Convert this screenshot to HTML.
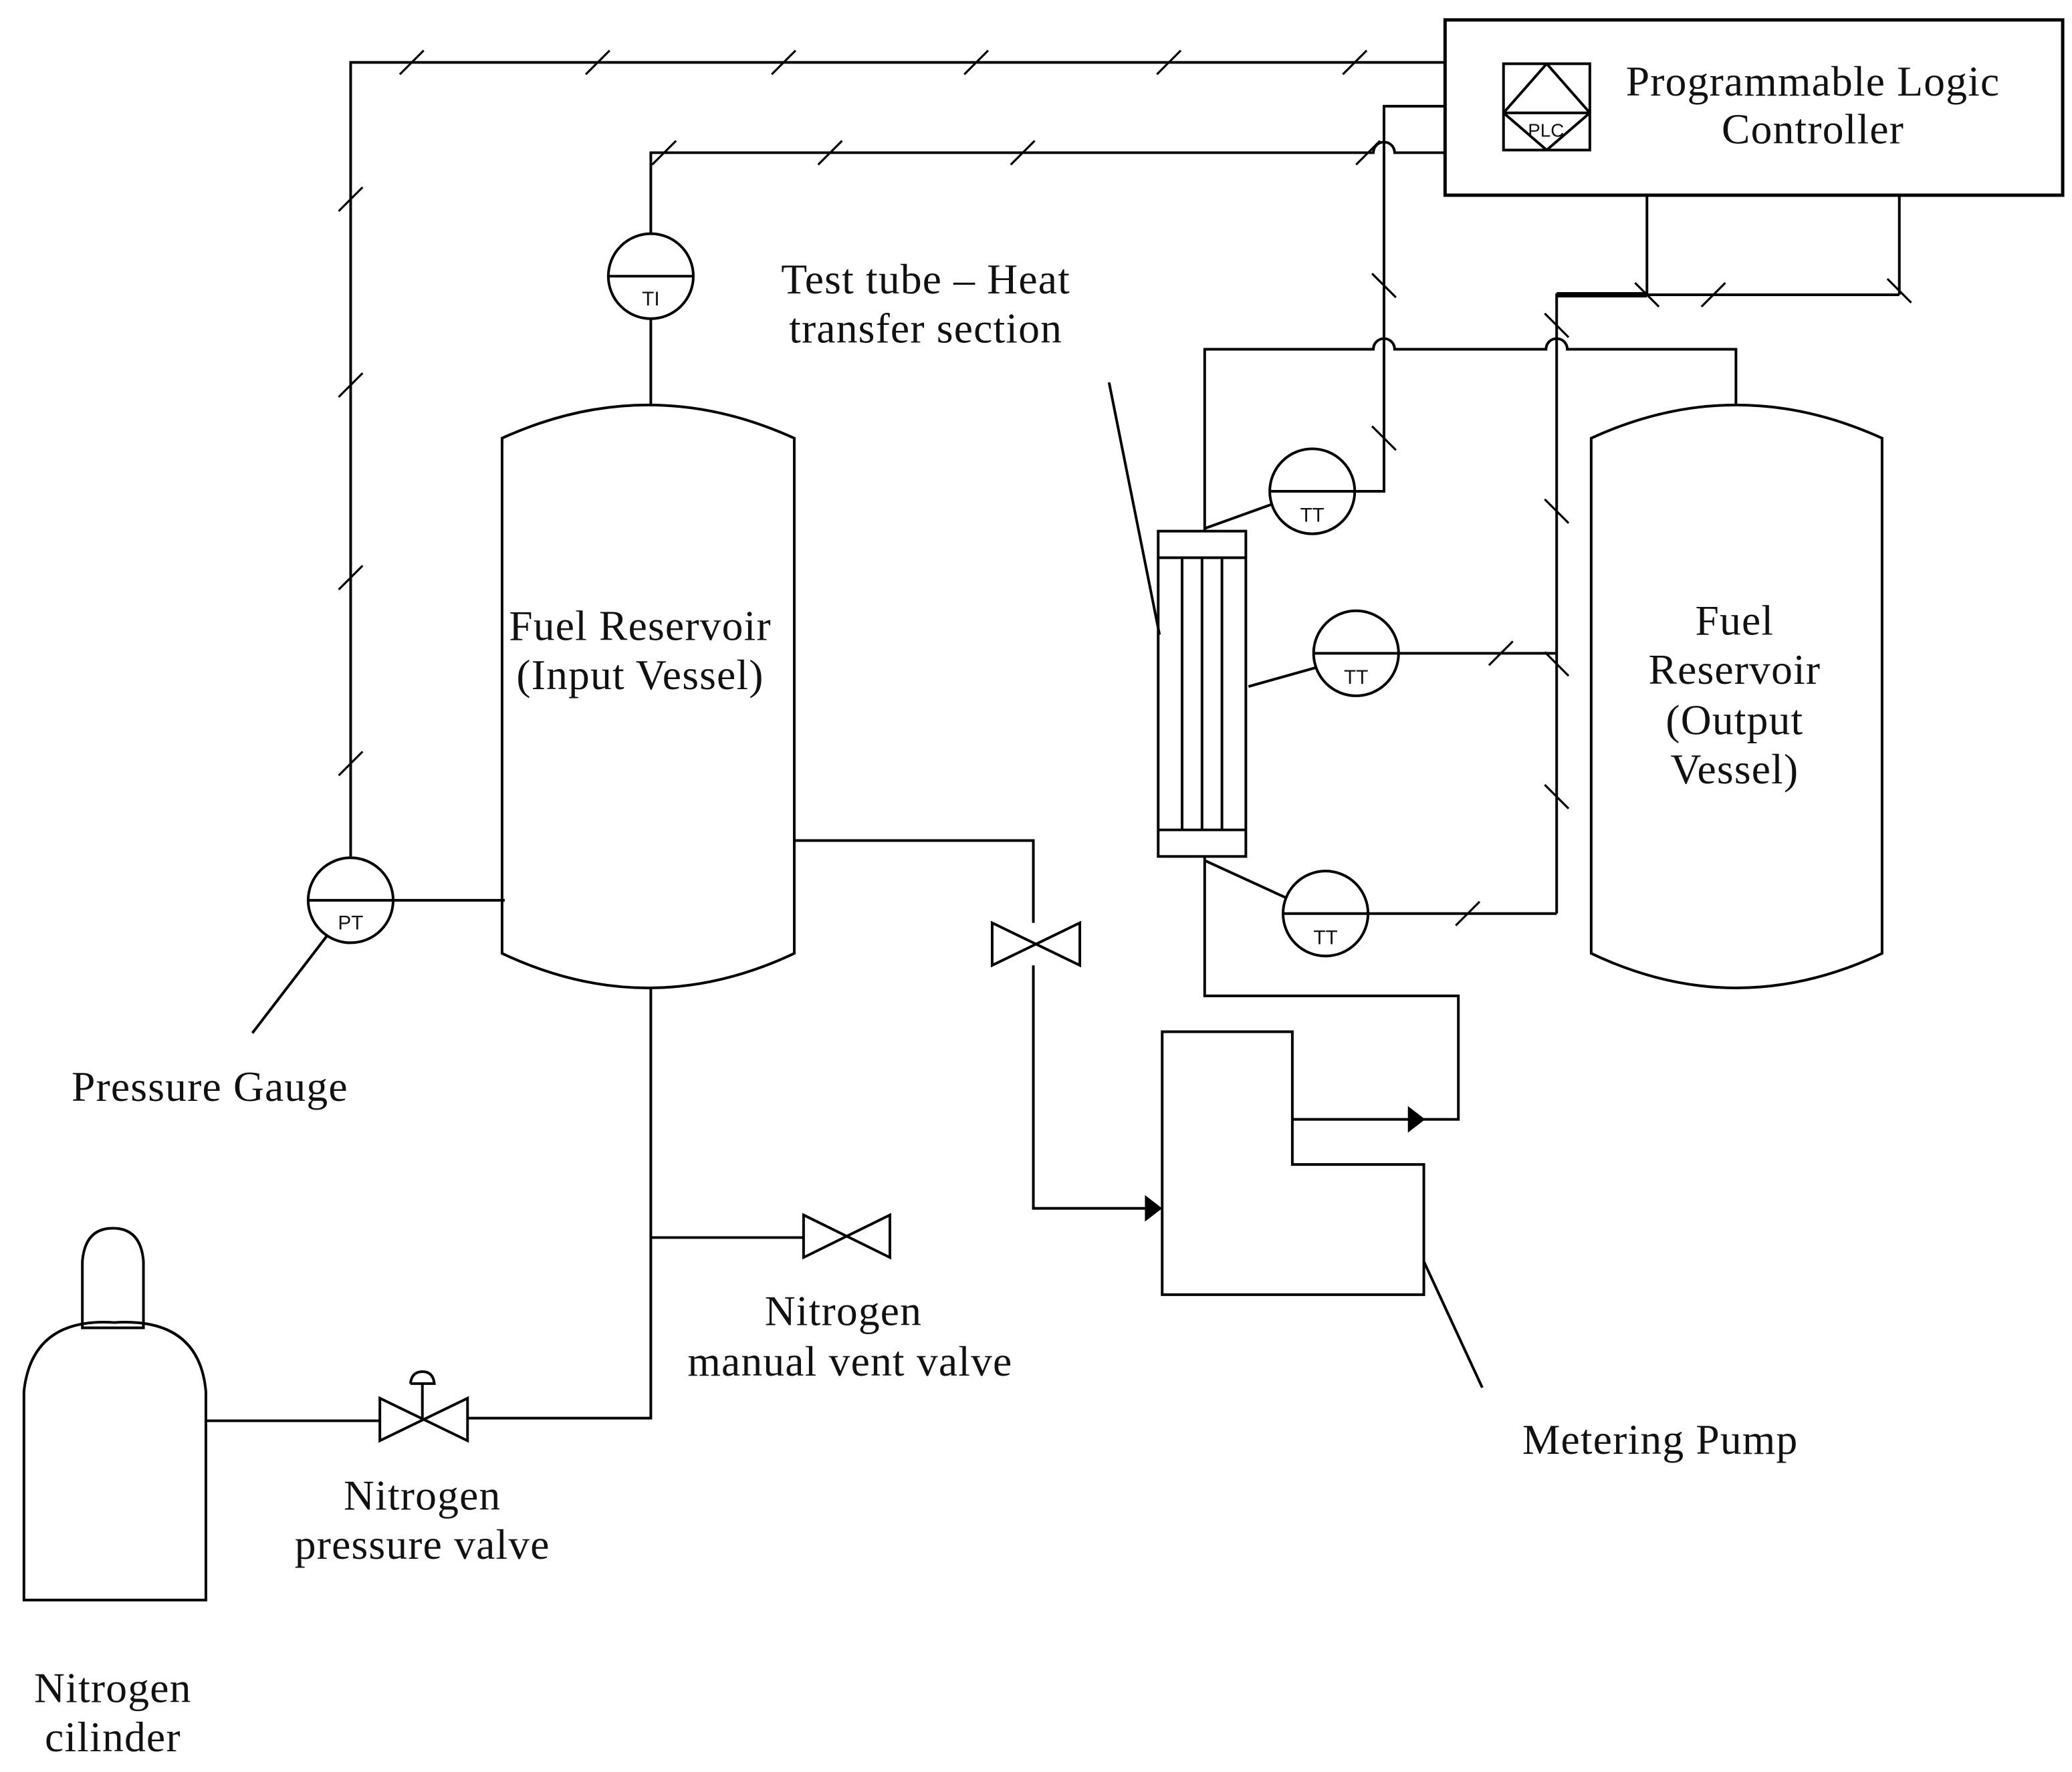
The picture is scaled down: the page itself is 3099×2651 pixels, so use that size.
<!DOCTYPE html>
<html><head><meta charset="utf-8"><style>
html,body{margin:0;padding:0;background:#fff;}
svg{display:block;}
text{font-family:"Liberation Serif",serif;font-size:32px;letter-spacing:0.6px;fill:#111;text-anchor:middle;}
.s{font-family:"Liberation Sans",sans-serif;font-size:15px;letter-spacing:0;}
</style></head><body>
<svg width="3099" height="2651" viewBox="0 0 1560 1334.5" xmlns="http://www.w3.org/2000/svg">
<g fill="none" stroke="#000" stroke-width="2">
<rect x="1088" y="15" width="465" height="132" stroke-width="2.5"/>
<rect x="1132" y="48" width="65" height="65"/>
<path d="M1132,85 H1197 M1164.5,48 L1132,85 M1164.5,48 L1197,85 M1132,85 L1164.5,113 M1197,85 L1164.5,113"/>
<path d="M1088,47 H264 V645"/>
<path d="M1088,115 H1050 A8,8 0 0 0 1034,115 H490 V176"/>
<path d="M490,240 V305"/>
<path d="M1088,80 H1042 V370 H1020"/>
<circle cx="490" cy="208" r="32"/><path d="M458,208 H522"/>
<path d="M378,330 Q488,280 598,330 V718 Q488,770 378,718 Z"/>
<circle cx="264" cy="678" r="32"/><path d="M232,678 H380 M246,705 L190,778"/>
<path d="M490,745 V1068 H352 M490,932 H605"/>
<path d="M605,915 L670,947 V915 L605,947 Z"/>
<path d="M286,1053 L352,1085 V1053 L286,1085 Z M155,1070 H286 M318,1069 V1042 M309,1042 H327 Q326,1033 318,1033 Q310,1033 309,1042"/>
<path d="M18,1048 Q24,992 86,996 Q150,992 155,1048 V1205 H18 Z"/>
<path d="M62,1000 V950 Q64,925 85,925 Q106,925 108,950 V1000 Z"/>
<path d="M598,633 H778 V695 M778,727 V910 H865"/>
<path d="M747,695 L813,727 V695 L747,727 Z"/>
<path d="M875,777 H973 V877 H1072 V975 H875 Z"/>
<path d="M973,843 H1098 V750 H907 V645"/>
<path d="M1072,950 L1116,1045"/>
<rect x="872" y="400" width="66" height="245"/>
<path d="M872,420 H938 M872,625 H938 M890,420 V625 M905,420 V625 M920,420 V625"/>
<path d="M835,288 L873,478"/>
<path d="M907,400 V263 H1034 A8,8 0 0 1 1050,263 H1164 A8,8 0 0 1 1180,263 H1307 V305"/>
<circle cx="988" cy="370" r="32"/><path d="M956,370 H1020 M907,398 L957,380"/>
<circle cx="1021" cy="492" r="32"/><path d="M989,492 H1053 M940,517 L990,503 M1053,492 H1172"/>
<circle cx="998" cy="688" r="32"/><path d="M966,688 H1030 M907,648 L968,676 M1030,688 H1172"/>
<path d="M1172,688 V222 H1430 M1240,147 V222 M1430,147 V222"/>
<path d="M1172,222 H1240" stroke-width="4"/>
<path d="M1198,330 Q1307,280 1417,330 V718 Q1307,770 1198,718 Z"/>
<g stroke-width="1.6">
<path d="M301,56 l18,-18 M441,56 l18,-18 M581,56 l18,-18 M726,56 l18,-18 M871,56 l18,-18 M1011,56 l18,-18"/>
<path d="M255,159 l18,-18 M255,299 l18,-18 M255,444 l18,-18 M255,584 l18,-18"/>
<path d="M491,124 l18,-18 M616,124 l18,-18 M761,124 l18,-18 M1021,124 l18,-18"/>
<path d="M1121,501 l18,-18 M1096,697 l18,-18 M1281,231 l18,-18"/>
</g>
<g stroke-width="1.6">
<path d="M1033,206 l18,18 M1033,321 l18,18 M1163,236 l18,18 M1163,376 l18,18 M1163,491 l18,18 M1163,591 l18,18"/>
<path d="M1231,213 l18,18 M1421,210 l18,18"/>
</g>
</g>
<path d="M862,900 L875,910 L862,920 Z" fill="#000"/>
<path d="M1060,833 L1073,843 L1060,853 Z" fill="#000"/>
<text class="s" x="1164" y="103" style="font-size:14px">PLC</text>
<text class="s" x="490" y="230">TI</text>
<text class="s" x="264" y="700">PT</text>
<text class="s" x="988" y="393">TT</text>
<text class="s" x="1021" y="515">TT</text>
<text class="s" x="998" y="711">TT</text>
<text x="1365" y="72">Programmable Logic</text>
<text x="1365" y="108">Controller</text>
<text x="697" y="221">Test tube – Heat</text>
<text x="697" y="258">transfer section</text>
<text x="482" y="482">Fuel Reservoir</text>
<text x="482" y="519">(Input Vessel)</text>
<text x="1306" y="478">Fuel</text>
<text x="1306" y="515">Reservoir</text>
<text x="1306" y="553">(Output</text>
<text x="1306" y="590">Vessel)</text>
<text x="158" y="829">Pressure Gauge</text>
<text x="635" y="998">Nitrogen</text>
<text x="640" y="1036">manual vent valve</text>
<text x="1250" y="1095">Metering Pump</text>
<text x="318" y="1137">Nitrogen</text>
<text x="318" y="1174">pressure valve</text>
<text x="85" y="1282">Nitrogen</text>
<text x="85" y="1319">cilinder</text>
</svg>
</body></html>
